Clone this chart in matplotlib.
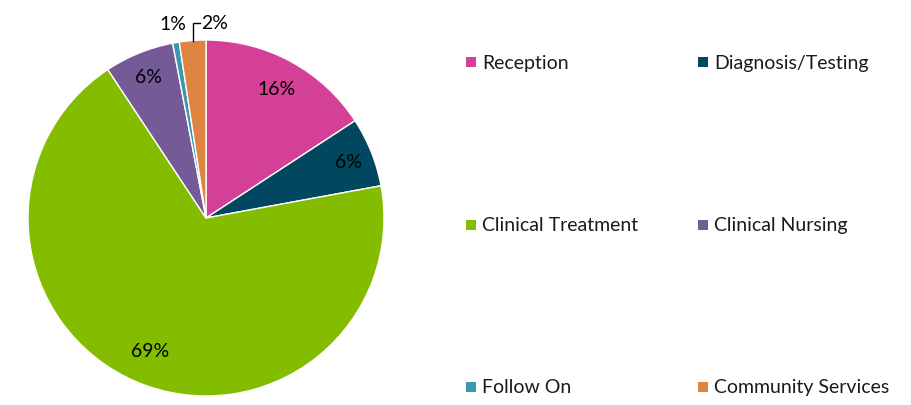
import numpy as np
import matplotlib
matplotlib.use("Agg")
import matplotlib.pyplot as plt
from matplotlib.patches import Rectangle

categories = ["Reception", "Diagnosis/Testing", "Clinical Treatment",
              "Clinical Nursing", "Follow On", "Community Services"]
values = [15.8, 6.3, 68.6, 6.3, 0.6, 2.4]
pct_labels = ["16%", "6%", "69%", "6%", "1%", "2%"]
colors = ["#D54097", "#00475F", "#84BD00", "#745A96", "#3C97B0", "#DC8440"]

plt.rcParams['font.family'] = ['Lato', 'DejaVu Sans']
FS = 14

W, H = 911, 406
fig = plt.figure(figsize=(W / 100, H / 100), dpi=100)
cx, cy, R = 206, 219, 178
ax = fig.add_axes([(cx - R) / W, (H - cy - R) / H, 2 * R / W, 2 * R / H])

wedges, _ = ax.pie(values, colors=colors, startangle=90, counterclock=False,
                   radius=1, wedgeprops=dict(edgecolor='white', linewidth=1.0))
ax.set_xlim(-1, 1)
ax.set_ylim(-1, 1)
ax.set_aspect('equal')
ax.axis('off')

label_dist = [0.83, 0.86, 0.81, 0.86, 1.11, None]
for i, w in enumerate(wedges):
    mid = np.deg2rad((w.theta1 + w.theta2) / 2)
    d = label_dist[i]
    if d is not None:
        ax.text(d * np.cos(mid), d * np.sin(mid), pct_labels[i], ha='center',
                va='center', fontsize=FS, color='black', clip_on=False)
    else:
        x0, y0 = np.cos(mid), np.sin(mid)
        ytop = y0 + 0.10
        ax.plot([x0, x0, x0 + 0.04], [y0, ytop, ytop], color='black', lw=1,
                clip_on=False, solid_joinstyle='miter')
        ax.text(x0 + 0.05, ytop, pct_labels[i], ha='left', va='center',
                fontsize=FS, color='black', clip_on=False)

# legend: 2 columns, 3 rows
col_x = [466, 698]
row_y = [63, 226, 388]
sq = 10
for i, (lab, c) in enumerate(zip(categories, colors)):
    x = col_x[i % 2]
    y = row_y[i // 2]
    fig.patches.append(Rectangle((x / W, (H - y - sq / 2) / H), sq / W, sq / H,
                                 transform=fig.transFigure, facecolor=c,
                                 edgecolor='none'))
    fig.text((x + sq + 6) / W, (H - y) / H, lab, ha='left', va='center',
             fontsize=FS, color='#1a1a1a')

fig.savefig("out.png", dpi=100)
